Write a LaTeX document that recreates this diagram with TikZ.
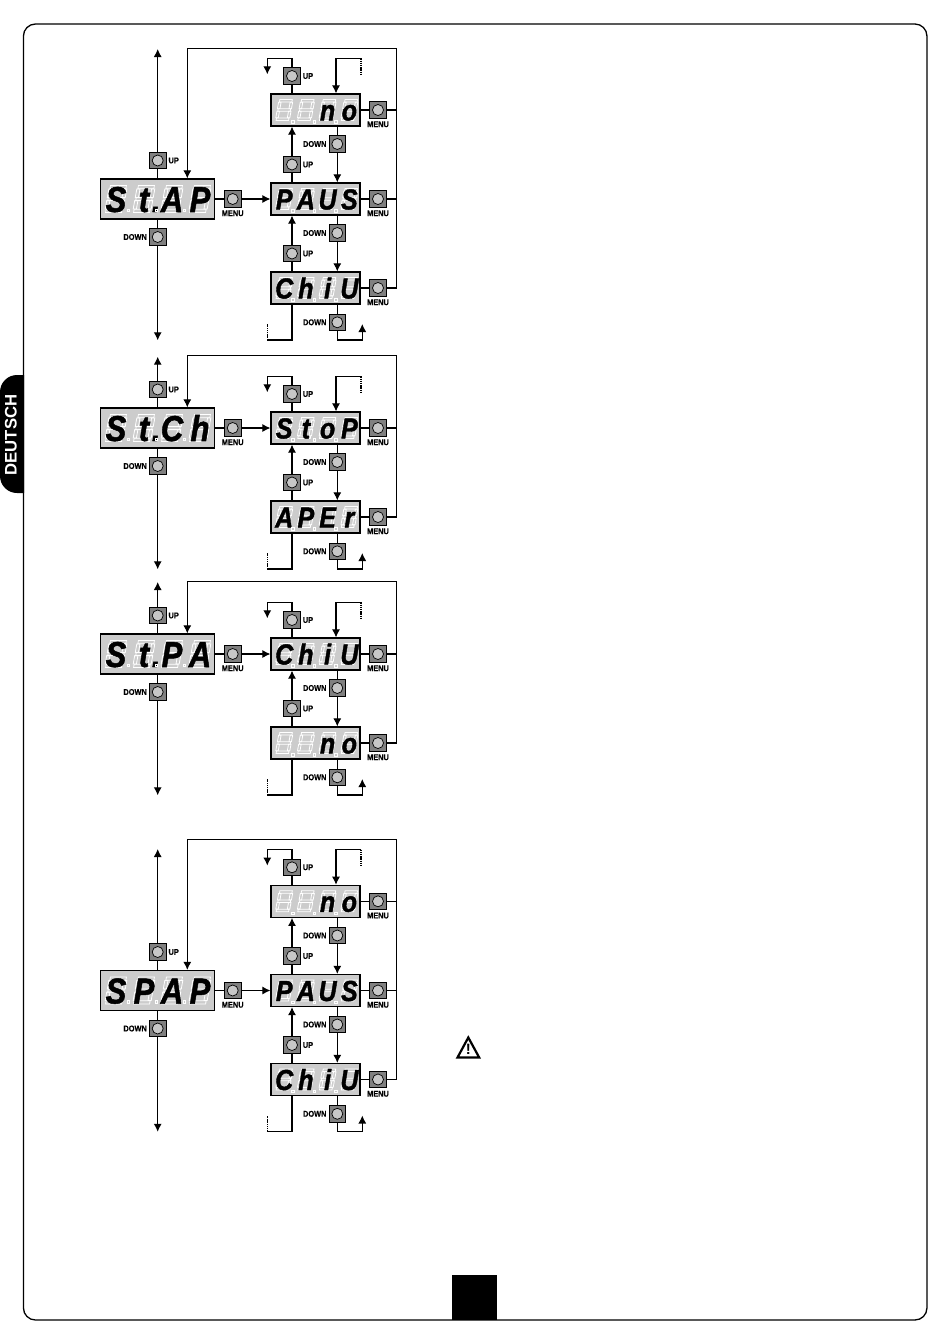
\documentclass[tikz,border=0pt]{standalone}
\usepackage{fontspec}
\usetikzlibrary{positioning,arrows.meta}
\newfontfamily\tabfont{Liberation Sans}
\newfontfamily\lblfont[FakeStretch=0.88,FakeBold=0.3]{Liberation Sans}
\newfontfamily\segfont[FakeStretch=0.86,FakeBold=1.4]{Liberation Sans}
\definecolor{lcdgray}{gray}{0.80}
\definecolor{keygray}{gray}{0.50}
\definecolor{capgray}{gray}{0.78}
\pgfdeclarelayer{wires}
\pgfsetlayers{wires,main}
\tikzset{
  wire/.style={line width=1.1pt},
  flow/.style={line width=1.1pt,-{Latex[length=8pt,width=8pt]}},
  stub/.style={line width=1.3pt,dash pattern=on 1.4pt off 0.8pt},
  lcd/.style={draw,line width=1.2pt,fill=lcdgray,inner sep=0pt,minimum height=32pt,minimum width=89pt},
  lcdbig/.style={lcd,minimum height=40pt,minimum width=113.5pt},
  key/.style={draw,line width=0.8pt,fill=keygray,inner sep=0pt,minimum size=16.5pt},
  keycap/.style={draw,line width=0.7pt,fill=capgray,circle,inner sep=0pt,minimum size=11pt},
  lbl/.style={font=\lblfont\bfseries\fontsize{8.4}{9}\selectfont,inner sep=0pt},
  seg/.style={font=\segfont\bfseries\itshape\fontsize{#1}{#1}\selectfont,inner sep=0pt,anchor=base},
  ghost/.pic={
    \foreach \sx/\sy/\sw/\sh in {-8/-13.5/16/3.2,-8/-1.6/16/3.2,-8/10.3/16/3.2,-9/-10/3.2/8.4,5.8/-10/3.2/8.4,-9/1.6/3.2/8.4,5.8/1.6/3.2/8.4}
      \draw[white,line width=0.8pt] (\sx,\sy) rectangle ++(\sw,\sh);
  },
}
% a key with its cap and label
\newcommand{\keynode}[5]{
  \node[key] (#1) at (#2,#3) {};
  \node[keycap] (#1c) at (#1) {};
  \node[lbl,#4] (#1l) {#5};
}
% big display, four digits and the dot after the second one
\newcommand{\biglcd}[7]{
  \node[lcdbig] (#1) at (157.5,#2) {};
  \foreach \dx/\ch [count=\n] in {-41.5/#3,-13.5/{#4\rlap{\kern2.8pt\fontsize{34}{34}\selectfont#5}},14.5/#6,42.5/#7}{
    \pic[xslant=0.18] at (\dx+157.5,#2) {ghost};
    \node[seg=36] (#1d\n) at (\dx+157.5,#2+13) {\ch};
  }
  \foreach \dx in {-29.5,-1.3,26.5}
    \draw[white,line width=0.6pt] (\dx+156.3,#2+10) rectangle ++(2.6,2.6);
}
% small display, an empty digit has {} as its letter
\newcommand{\smalllcd}[6]{
  \node[lcd] (#1) at (315.5,#2) {};
  \foreach \dx/\ch [count=\n] in {-32/#3,-10.3/#4,11.4/#5,33.2/#6}{
    \pic[scale=0.78,xslant=0.18] at (\dx+316.2,#2) {ghost};
    \node[seg=29] (#1d\n) at (\dx+316.2,#2+10.5) {\ch};
  }
  \foreach \dx in {-23.5,-2,19.5}
    \draw[white,line width=0.6pt] (\dx+315,#2+10.5) rectangle ++(2.4,2.4);
}
% left column of one group
\newcommand{\leftcol}[4]{
  \keynode{#1up}{157.7}{#2-38.5}{right=2pt of #1up}{UP}
  \keynode{#1dn}{157.7}{#2+38}{left=2pt of #1dn}{DOWN}
  \keynode{#1mn}{232.7}{#2}{below=2.5pt of #1mn}{MENU}
  \coordinate (#1top) at (157.7,#3);
  \coordinate (#1bot) at (157.7,#2+141.3);
  \begin{pgfonlayer}{wires}
    \draw[flow] (#1.north -| #1up) -- (#1top);
    \draw[flow] (#1.south -| #1dn) -- (#1bot);
    \draw[flow] (#1.east) -- (#4.west);
  \end{pgfonlayer}
}
% one menu row, with its key on the right
\newcommand{\rowkey}[2]{
  \keynode{#1mn}{378}{#2}{below=2.5pt of #1mn}{MENU}
  \coordinate (#1bus) at (396.7,#2);
  \begin{pgfonlayer}{wires}
    \draw[wire] (#1.east) -- (#1bus);
  \end{pgfonlayer}
}
% up and down keys between two rows
\newcommand{\rowlink}[3]{
  \keynode{#1up}{292}{#3-34.5}{right=2pt of #1up}{UP}
  \keynode{#1dn}{337.3}{#3-55}{left=2pt of #1dn}{DOWN}
  \begin{pgfonlayer}{wires}
    \draw[flow] (#1.north -| #1up) -- (#2.south -| #1up);
    \draw[flow] (#2.south -| #1dn) -- (#1.north -| #1dn);
  \end{pgfonlayer}
}
% loops leaving the first row upwards and the last row downwards
\newcommand{\looptop}[2]{
  \keynode{#1up}{292}{#2-34}{right=2pt of #1up}{UP}
  \coordinate (#1la) at (292,#2-51.7);
  \coordinate (#1lb) at (267.3,#2-51.7);
  \coordinate (#1lc) at (267.3,#2-35.7);
  \coordinate (#1ra) at (336,#2-51.7);
  \coordinate (#1rb) at (361,#2-51.7);
  \coordinate (#1rc) at (361,#2-35.7);
  \begin{pgfonlayer}{wires}
    \draw[flow] (#1.north -| #1up) -- (#1la) -- (#1lb) -- (#1lc);
    \draw[flow] (#1rb) -- (#1ra) -- (#1.north -| #1ra);
    \draw[stub] (#1rb) -- (#1rc);
  \end{pgfonlayer}
}
\newcommand{\loopbot}[2]{
  \keynode{#1dn}{337.3}{#2+34.3}{left=2pt of #1dn}{DOWN}
  \coordinate (#1la) at (292,#2+52);
  \coordinate (#1lb) at (267.3,#2+52);
  \coordinate (#1lc) at (267.3,#2+36);
  \coordinate (#1ra) at (337.3,#2+52);
  \coordinate (#1rb) at (362.3,#2+52);
  \coordinate (#1rc) at (362.3,#2+36);
  \begin{pgfonlayer}{wires}
    \draw[wire] (#1.south -| #1la) -- (#1la) -- (#1lb);
    \draw[stub] (#1lb) -- (#1lc);
    \draw[flow] (#1.south -| #1ra) -- (#1ra) -- (#1rb) -- (#1rc);
  \end{pgfonlayer}
}
% feedback wire from the bus back to the big display
\newcommand{\feedback}[3]{
  \coordinate (#1fa) at (396.7,#2);
  \coordinate (#1fb) at (187.3,#2);
  \begin{pgfonlayer}{wires}
    \draw[flow] (#3bus) -- (#1fa) -- (#1fb) -- (#1.north -| #1fb);
  \end{pgfonlayer}
}
\begin{document}
\begin{tikzpicture}[x=1pt,y=-1pt]
  \useasboundingbox (0,0) rectangle (950,1344);
  \node[draw,line width=1.3pt,rounded corners=12pt,minimum width=903.5pt,minimum height=1296pt,inner sep=0pt] (page) at (475.2,672) {};
  \fill[black] (24,375) {[rounded corners=17pt] -- (0,375) -- (0,493)} -- (24,493) -- cycle;
  \node[white,rotate=90,inner sep=0pt,font=\tabfont\bfseries\fontsize{16.7}{17}\selectfont] (tab) at (11,435) {DEUTSCH};
  \node[fill=black,minimum width=45.5pt,minimum height=45pt,inner sep=0pt] (pageno) at (474.7,1297.5) {};
  \draw[line width=2.2pt,line join=miter] (457.5,1057.5) -- (468.3,1037.5) -- (479.2,1057.5) -- cycle;
  \node[font=\tabfont\bfseries\fontsize{15}{15}\selectfont,inner sep=0pt] (warnmark) at (468.3,1049) {!};

  % first group
  \biglcd{stap}{199}{S}{t}{.}{A}{P}
  \smalllcd{apno}{110}{}{}{n}{o}
  \smalllcd{appaus}{199}{P}{A}{U}{S}
  \smalllcd{apchiu}{288}{C}{h}{i}{U}
  \leftcol{stap}{199}{49}{appaus}
  \looptop{apno}{110}
  \rowkey{apno}{110}
  \rowkey{appaus}{199}
  \rowkey{apchiu}{288}
  \rowlink{appaus}{apno}{199}
  \rowlink{apchiu}{appaus}{288}
  \loopbot{apchiu}{288}
  \feedback{stap}{48.3}{apchiu}

  % second group
  \biglcd{stch}{428}{S}{t}{.}{C}{h}
  \smalllcd{chstop}{428}{S}{t}{o}{P}
  \smalllcd{chaper}{517}{A}{P}{E}{r}
  \leftcol{stch}{428}{356.7}{chstop}
  \looptop{chstop}{428}
  \rowkey{chstop}{428}
  \rowkey{chaper}{517}
  \rowlink{chaper}{chstop}{517}
  \loopbot{chaper}{517}
  \feedback{stch}{355.7}{chaper}

  % third group
  \biglcd{stpa}{654}{S}{t}{.}{P}{A}
  \smalllcd{pachiu}{654}{C}{h}{i}{U}
  \smalllcd{pano}{743}{}{}{n}{o}
  \leftcol{stpa}{654}{582}{pachiu}
  \looptop{pachiu}{654}
  \rowkey{pachiu}{654}
  \rowkey{pano}{743}
  \rowlink{pano}{pachiu}{743}
  \loopbot{pano}{743}
  \feedback{stpa}{581.3}{pano}

  % fourth group
  \biglcd{spap}{990.5}{S}{P}{}{A}{P}
  \smalllcd{spno}{901.3}{}{}{n}{o}
  \smalllcd{sppaus}{990.5}{P}{A}{U}{S}
  \smalllcd{spchiu}{1079.5}{C}{h}{i}{U}
  \leftcol{spap}{990.5}{849}{sppaus}
  \looptop{spno}{901.3}
  \rowkey{spno}{901.3}
  \rowkey{sppaus}{990.5}
  \rowkey{spchiu}{1079.5}
  \rowlink{sppaus}{spno}{990.5}
  \rowlink{spchiu}{sppaus}{1079.5}
  \loopbot{spchiu}{1079.5}
  \feedback{spap}{839.3}{spchiu}
\end{tikzpicture}
\end{document}
